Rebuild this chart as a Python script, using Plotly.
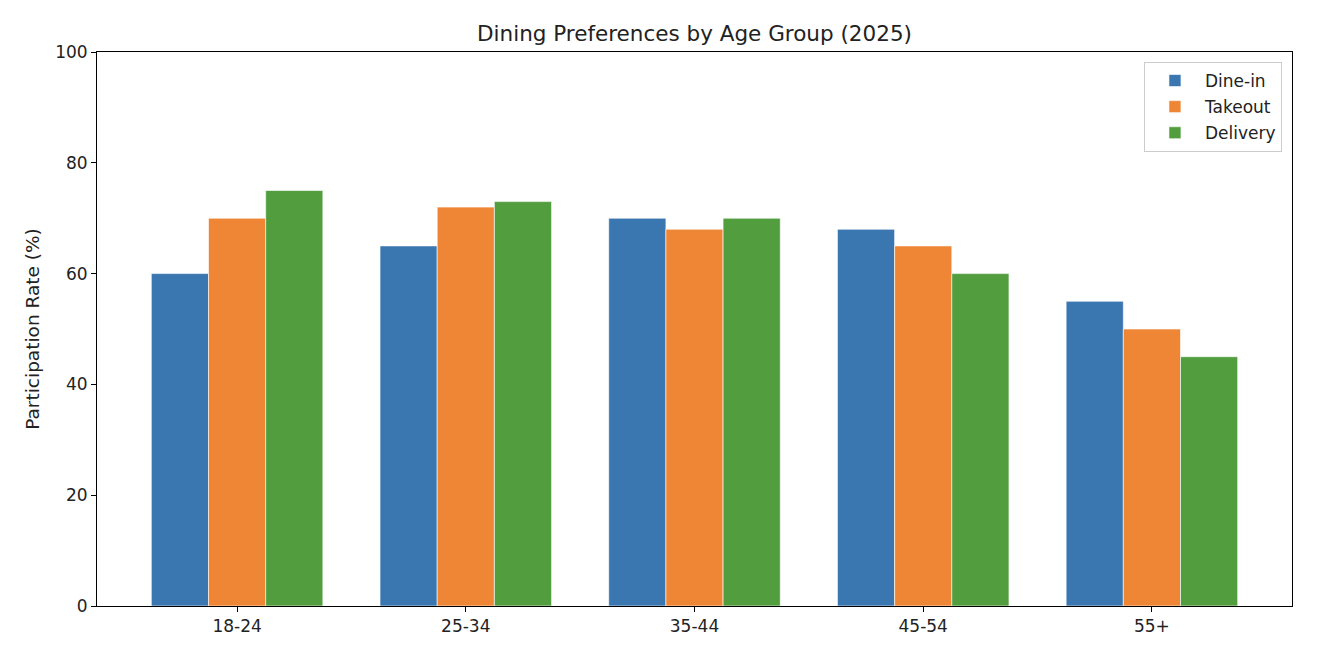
import plotly.graph_objects as go

categories = ["18-24", "25-34", "35-44", "45-54", "55+"]
dine_in = [60, 65, 70, 68, 55]
takeout = [70, 72, 68, 65, 50]
delivery = [75, 73, 70, 60, 45]
series_names = ["Dine-in", "Takeout", "Delivery"]
colors = ["#3a76af", "#ef8636", "#529e3f"]

fig = go.Figure()
for name, vals, c in zip(series_names, [dine_in, takeout, delivery], colors):
    fig.add_trace(go.Bar(
        name=name, x=list(range(len(categories))), y=vals, legendgroup=name,
        marker=dict(color=c, line=dict(color="white", width=0.6)),
    ))

font = "DejaVu Sans"
L, R, T, B = 89, 38, 44, 56
fig.update_layout(
    width=1322, height=654,
    margin=dict(l=L, r=R, t=T, b=B),
    paper_bgcolor="white", plot_bgcolor="white",
    barmode="group", bargap=0.25, bargroupgap=0,
    font=dict(family=font, size=17, color="#222"),
    title=dict(text="Dining Preferences by Age Group (2025)", x=(L + 1322 - R) / 2 / 1322,
               xanchor="center", y=1 - 25 / 654, yanchor="middle",
               font=dict(family=font, size=21.5, color="#222")),
    legend=dict(x=0.9916, xanchor="right", y=0.982, yanchor="top",
                bordercolor="#cccccc", borderwidth=1, bgcolor="rgba(255,255,255,0.8)",
                font=dict(family=font, size=17, color="#222"),
                itemwidth=50, tracegroupgap=1),
    showlegend=True,
)
fig.update_xaxes(
    range=[-0.6125, 4.6125], tickmode="array", tickvals=list(range(len(categories))),
    ticktext=categories, ticks="outside", ticklen=5, tickcolor="black",
    showline=True, linecolor="black", linewidth=1, mirror=True, showgrid=False,
    zeroline=False, tickfont=dict(size=17),
)
fig.update_yaxes(
    range=[0, 100], tickvals=[0, 20, 40, 60, 80, 100], ticks="outside", ticklen=5,
    tickcolor="black", showline=True, linecolor="black", linewidth=1, mirror=True,
    showgrid=False, zeroline=False, tickfont=dict(size=17),
    title=dict(text="Participation Rate (%)", font=dict(size=18.5), standoff=10),
)
fig.write_html("out.html")
